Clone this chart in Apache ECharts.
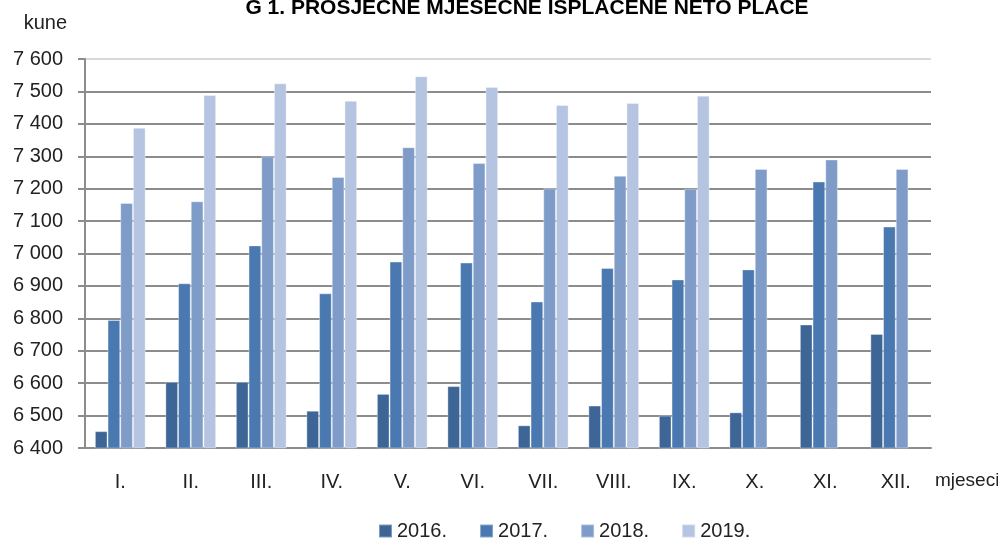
<!DOCTYPE html>
<html>
<head>
<meta charset="utf-8">
<script src="https://cdn.jsdelivr.net/npm/echarts@6/dist/echarts.min.js"></script>
<style>html,body{margin:0;padding:0;background:#fff}#c{width:998px;height:540px}</style>
</head>
<body>
<div id="c"></div>
<script>
const months = ['I.','II.','III.','IV.','V.','VI.','VII.','VIII.','IX.','X.','XI.','XII.'];
const years = ['2016.','2017.','2018.','2019.'];
const y2016 = [6452,6604,6604,6515,6567,6591,6470,6531,6500,6510,6781,6752];
const y2017 = [6795,6908,7025,6877,6975,6972,6852,6955,6920,6951,7222,7083];
const y2018 = [7156,7161,7300,7236,7328,7279,7201,7240,7200,7261,7290,7261];
const y2019 = [7388,7489,7525,7471,7547,7514,7458,7464,7487,null,null,null];
const colors = ['#3d6697','#4a78b0','#7f9cc9','#b5c4e0'];
const FONT = 'Liberation Sans';

const chart = echarts.init(document.getElementById('c'));
const seriesData = [y2016,y2017,y2018,y2019];
const gridColors = [];
for (let i = 0; i < 13; i++) gridColors.push(i === 12 ? '#d9d9d9' : '#8c8c8c');
chart.setOption({
  animation: false,
  textStyle: {fontFamily: FONT},
  title: {
    text: 'G 1. PROSJEČNE MJESEČNE ISPLAĆENE NETO PLAĆE',
    left: 522, textAlign: 'center', top: -7,
    textStyle: {fontFamily: FONT, fontSize: 21, fontWeight: 'bold', color: '#000'}
  },
  legend: {
    top: 516, left: 373,
    data: years, icon: 'rect', itemWidth: 13, itemHeight: 13, itemGap: 32,
    textStyle: {fontFamily: FONT, fontSize: 20, color: '#222'}
  },
  grid: {left: 85, right: 67, top: 59, bottom: 92, containLabel: false},
  xAxis: {
    type: 'category', data: months,
    axisLine: {lineStyle: {color: '#8c8c8c', width: 2}},
    axisTick: {show: false},
    axisLabel: {fontFamily: FONT, fontSize: 20, color: '#222', margin: 24}
  },
  yAxis: {
    type: 'value', min: 6400, max: 7600, interval: 100,
    name: 'kune', nameLocation: 'end', nameGap: 26,
    nameTextStyle: {fontFamily: FONT, fontSize: 20, color: '#222', align: 'right', padding: [0, 18, 0, 0]},
    axisLine: {show: true, lineStyle: {color: '#8c8c8c', width: 2}},
    axisTick: {show: true, length: 7, lineStyle: {color: '#8c8c8c', width: 2}},
    axisLabel: {fontFamily: FONT, fontSize: 20, color: '#222', margin: 22,
      formatter: v => String(v).replace(/\B(?=(\d{3})+(?!\d))/g, ' ')},
    splitLine: {lineStyle: {color: gridColors, width: 2}}
  },
  graphic: [{
    type: 'text', left: 935, top: 471,
    style: {text: 'mjeseci', fontFamily: FONT, fontSize: 19, fill: '#222'}
  }],
  series: years.map((y, i) => ({
    name: y, type: 'bar', data: seriesData[i],
    barGap: '0%', barCategoryGap: '28%',
    itemStyle: {color: colors[i], borderColor: 'rgba(255,255,255,0.35)', borderWidth: 1}
  }))
});
</script>
</body>
</html>
